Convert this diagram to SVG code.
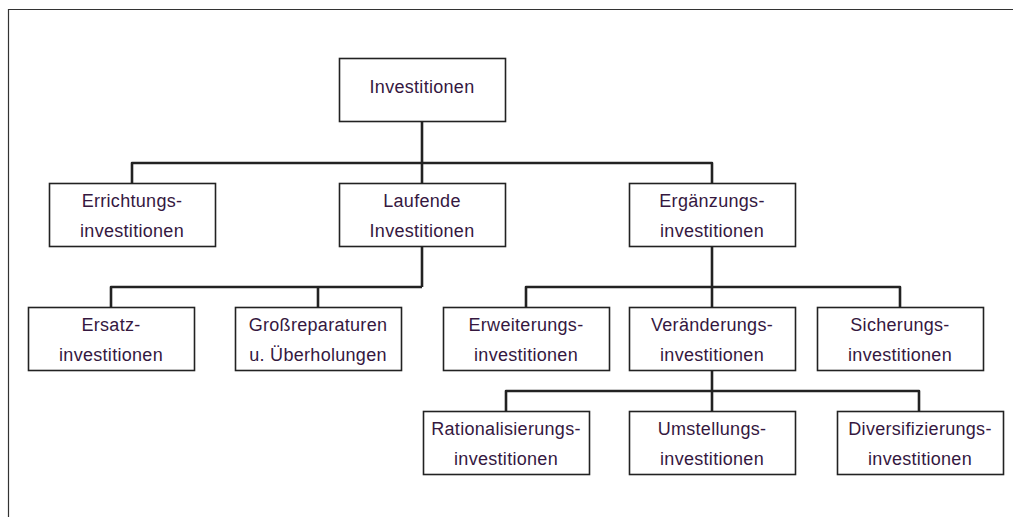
<svg xmlns="http://www.w3.org/2000/svg" width="1013" height="517" viewBox="0 0 1013 517">
<style>
.box{fill:#fff;stroke:#222;stroke-width:1.6}
.t{font-family:"Liberation Sans",Arial,sans-serif;font-size:18px;letter-spacing:0.3px;fill:#35183f;text-anchor:middle}
.c{fill:none;stroke:#222;stroke-width:2.6;stroke-linejoin:round}
</style>
<rect x="0" y="0" width="1013" height="517" fill="#fff"/>
<path d="M8.5 517 V9.5 H1013" fill="none" stroke="#333" stroke-width="1.2"/>
<g id="connectors">
<path class="c" d="M422 121 V183 M132 183 V163 H712 V183"/>
<path class="c" d="M422 245 V287 M111 307 V287 H422 M318 287 V307"/>
<path class="c" d="M712 245 V307 M526 307 V287 H900 V307"/>
<path class="c" d="M712 369 V411 M506 411 V391 H919 V411"/>
</g>
<g id="n-investitionen"><rect class="box" x="339.5" y="58.5" width="166" height="63"/><text class="t" x="422" y="93">Investitionen</text></g>
<g id="n-errichtung"><rect class="box" x="49.5" y="183.5" width="166" height="63"/><text class="t" x="132" y="207">Errichtungs-</text><text class="t" x="132" y="237">investitionen</text></g>
<g id="n-laufende"><rect class="box" x="339.5" y="183.5" width="166" height="63"/><text class="t" x="422" y="207">Laufende</text><text class="t" x="422" y="237">Investitionen</text></g>
<g id="n-ergaenzung"><rect class="box" x="629.5" y="183.5" width="166" height="63"/><text class="t" x="712" y="207">Ergänzungs-</text><text class="t" x="712" y="237">investitionen</text></g>
<g id="n-ersatz"><rect class="box" x="28.5" y="307.5" width="166" height="63"/><text class="t" x="111" y="331">Ersatz-</text><text class="t" x="111" y="361">investitionen</text></g>
<g id="n-grossreparaturen"><rect class="box" x="235.5" y="307.5" width="166" height="63"/><text class="t" x="318" y="331">Großreparaturen</text><text class="t" x="318" y="361">u. Überholungen</text></g>
<g id="n-erweiterung"><rect class="box" x="443.5" y="307.5" width="166" height="63"/><text class="t" x="526" y="331">Erweiterungs-</text><text class="t" x="526" y="361">investitionen</text></g>
<g id="n-veraenderung"><rect class="box" x="629.5" y="307.5" width="166" height="63"/><text class="t" x="712" y="331">Veränderungs-</text><text class="t" x="712" y="361">investitionen</text></g>
<g id="n-sicherung"><rect class="box" x="817.5" y="307.5" width="166" height="63"/><text class="t" x="900" y="331">Sicherungs-</text><text class="t" x="900" y="361">investitionen</text></g>
<g id="n-rationalisierung"><rect class="box" x="423.5" y="411.5" width="166" height="63"/><text class="t" x="506" y="435">Rationalisierungs-</text><text class="t" x="506" y="465">investitionen</text></g>
<g id="n-umstellung"><rect class="box" x="629.5" y="411.5" width="166" height="63"/><text class="t" x="712" y="435">Umstellungs-</text><text class="t" x="712" y="465">investitionen</text></g>
<g id="n-diversifizierung"><rect class="box" x="837.5" y="411.5" width="166" height="63"/><text class="t" x="920" y="435">Diversifizierungs-</text><text class="t" x="920" y="465">investitionen</text></g>
</svg>
